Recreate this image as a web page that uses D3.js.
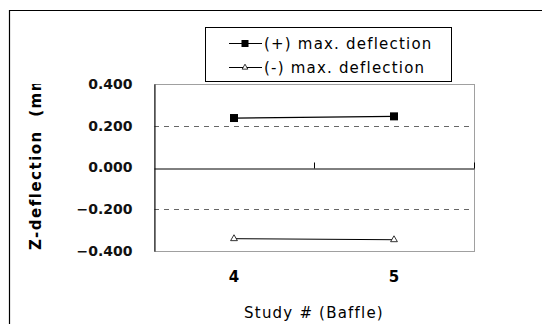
<!DOCTYPE html>
<html>
<head>
<meta charset="utf-8">
<script src="https://cdn.jsdelivr.net/npm/d3@7"></script>
<style>
  body { margin: 0; background: #fff; }
  svg { display: block; font-family: "DejaVu Sans", sans-serif; }
</style>
</head>
<body>
<div id="chart"></div>
<script>
const studies = ['4', '5'];
const plusDeflection = [0.237, 0.245];
const minusDeflection = [-0.341, -0.346];
const yTicks = [0.4, 0.2, 0, -0.2, -0.4];
const dashedLevels = [0.2, -0.2];
const seriesNames = ['(+) max. deflection', '(-) max. deflection'];

const width = 542, height = 324;
const plot = { left: 154, right: 474, top: 84, bottom: 251 };

const svg = d3.select('#chart').append('svg')
  .attr('width', width)
  .attr('height', height);

// outer frame (right and bottom run off the picture)
svg.append('path')
  .attr('d', `M9.5,${height + 2} V10.5 H${width + 2}`)
  .attr('fill', 'none')
  .attr('stroke', '#000')
  .attr('stroke-width', 1.2);

const x = d3.scaleBand().domain(studies).range([plot.left, plot.right]);
const y = d3.scaleLinear().domain([-0.4, 0.4]).range([plot.bottom, plot.top]);
const cx = d => x(d) + x.bandwidth() / 2;

// plot area border
svg.append('rect')
  .attr('x', plot.left + 0.5).attr('y', plot.top + 0.5)
  .attr('width', plot.right - plot.left).attr('height', plot.bottom - plot.top)
  .attr('fill', 'none').attr('stroke', '#a0a0a0');

// dashed gridlines
svg.selectAll('.grid')
  .data(dashedLevels)
  .enter().append('line')
  .attr('class', 'grid')
  .attr('x1', plot.left).attr('x2', plot.right)
  .attr('y1', d => Math.round(y(d)) + 0.5).attr('y2', d => Math.round(y(d)) + 0.5)
  .attr('stroke', '#666').attr('stroke-dasharray', '5,5');

// y axis
const yAxis = svg.append('g')
  .attr('transform', `translate(${plot.left + 0.5},0)`)
  .call(d3.axisLeft(y).tickValues(yTicks).tickSize(0).tickPadding(22)
    .tickFormat(d => d3.format('.3f')(d).replace('-', '\u2212')));
yAxis.select('.domain').attr('stroke', '#000');
yAxis.selectAll('text')
  .attr('font-size', 14).attr('font-weight', 'bold')
  .attr('font-family', '"DejaVu Sans", sans-serif')
  .attr('fill', '#111');

// zero axis with category tick marks
const zeroY = Math.round(y(0)) + 0.5;
const zeroAxis = svg.append('g')
  .attr('transform', `translate(0,${zeroY})`)
  .call(d3.axisTop(x).tickSize(0).tickFormat(''));
zeroAxis.select('.domain').attr('stroke', '#000');
zeroAxis.selectAll('.bound')
  .data(studies.slice(1).concat(['end']))
  .enter().append('line')
  .attr('class', 'bound')
  .attr('x1', d => d === 'end' ? plot.right + 0.5 : x(d) + 0.5)
  .attr('x2', d => d === 'end' ? plot.right + 0.5 : x(d) + 0.5)
  .attr('y1', 0).attr('y2', -6)
  .attr('stroke', '#000');

// x tick labels below the plot
svg.selectAll('.xlab')
  .data(studies)
  .enter().append('text')
  .attr('class', 'xlab')
  .attr('x', d => cx(d)).attr('y', 282)
  .attr('text-anchor', 'middle')
  .attr('font-size', 15).attr('font-weight', 'bold')
  .text(d => d);

// series lines
const line = d3.line().x((d, i) => cx(studies[i])).y(d => y(d));
svg.append('path').datum(plusDeflection)
  .attr('d', line).attr('fill', 'none').attr('stroke', '#000').attr('stroke-width', 1.2);
svg.append('path').datum(minusDeflection)
  .attr('d', line).attr('fill', 'none').attr('stroke', '#000').attr('stroke-width', 1);

svg.selectAll('.sq')
  .data(plusDeflection)
  .enter().append('rect')
  .attr('class', 'sq')
  .attr('x', (d, i) => cx(studies[i]) - 4).attr('y', d => y(d) - 4)
  .attr('width', 8).attr('height', 8).attr('fill', '#000');

const tri = d3.symbol().type(d3.symbolTriangle).size(20);
svg.selectAll('.tri')
  .data(minusDeflection)
  .enter().append('path')
  .attr('class', 'tri')
  .attr('transform', (d, i) => `translate(${cx(studies[i])},${y(d)})`)
  .attr('d', tri).attr('fill', '#fff').attr('stroke', '#000').attr('stroke-width', 0.8);

// axis titles (y title is cut off at the top, as in the original)
svg.append('defs').append('clipPath').attr('id', 'yclip')
  .append('rect').attr('x', 0).attr('y', 84).attr('width', 80).attr('height', 200);
svg.append('g')
  .attr('clip-path', 'url(#yclip)')
  .append('text')
  .attr('transform', 'translate(41,250) rotate(-90)')
  .attr('font-size', 15).attr('font-weight', 'bold')
  .attr('letter-spacing', 1.5)
  .text('Z-deflection\u00a0\u00a0(mm)');

svg.append('text')
  .attr('x', 314).attr('y', 318)
  .attr('text-anchor', 'middle')
  .attr('font-size', 15).attr('letter-spacing', 1.2)
  .text('Study # (Baffle)');

// legend
const legend = svg.append('g');
legend.append('rect')
  .attr('x', 205.5).attr('y', 27.5).attr('width', 246).attr('height', 54)
  .attr('fill', '#fff').attr('stroke', '#000');
const rows = legend.selectAll('.row')
  .data(seriesNames)
  .enter().append('g')
  .attr('transform', (d, i) => `translate(0,${43 + i * 24})`);
rows.append('line')
  .attr('x1', 229).attr('x2', 262).attr('y1', 0.5).attr('y2', 0.5)
  .attr('stroke', '#000');
rows.filter((d, i) => i === 0).append('rect')
  .attr('x', 241.5).attr('y', -3).attr('width', 7).attr('height', 7).attr('fill', '#000');
rows.filter((d, i) => i === 1).append('path')
  .attr('transform', 'translate(245,0.5)')
  .attr('d', d3.symbol().type(d3.symbolTriangle).size(14))
  .attr('fill', '#fff').attr('stroke', '#000').attr('stroke-width', 0.8);
rows.append('text')
  .attr('x', 264).attr('y', 6)
  .attr('font-size', 15).attr('letter-spacing', 1.2)
  .text(d => d);
</script>
</body>
</html>
